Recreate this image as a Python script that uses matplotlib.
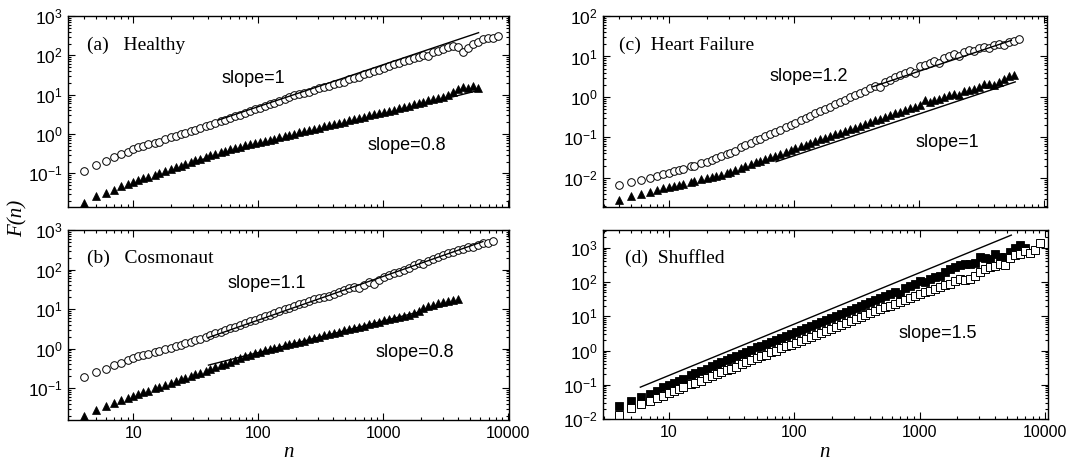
import numpy as np
import matplotlib
matplotlib.use("Agg")
import matplotlib.pyplot as plt
from matplotlib.ticker import LogLocator, FixedLocator, FixedFormatter, NullFormatter

plt.rcParams['font.family'] = ['Liberation Sans', 'DejaVu Sans']
plt.rcParams['mathtext.fontset'] = 'custom'
plt.rcParams['mathtext.rm'] = 'Liberation Sans'

# ---------------- data ----------------
n_grid = [4, 5, 6, 7, 8, 9, 10, 11, 12, 13, 15, 16, 18, 20, 22, 24, 26, 29, 31, 34,
          38, 41, 45, 50, 54, 59, 65, 71, 78, 86, 94, 103, 113, 124, 135, 148, 163, 178, 195, 214,
          234, 257, 281, 308, 338, 370, 405, 444, 487, 534, 585, 641, 702, 770, 843, 924, 1013, 1110, 1217, 1333,
          1461, 1601, 1755, 1923, 2108, 2310, 2532, 2775, 3041, 3333, 3653, 4004, 4388, 4809, 5271, 5777, 6331, 6939, 7605, 8335,
          9135]

# log10 F(n) values
healthy_circ = [-0.93, -0.79, -0.68, -0.59, -0.51, -0.45, -0.39, -0.34, -0.30, -0.26,
                -0.22, -0.19, -0.13, -0.08, -0.04, 0.00, 0.03, 0.08, 0.11, 0.15,
                0.20, 0.23, 0.27, 0.32, 0.36, 0.40, 0.45, 0.49, 0.54, 0.58,
                0.63, 0.67, 0.72, 0.76, 0.80, 0.85, 0.89, 0.93, 0.98, 1.01,
                1.05, 1.08, 1.12, 1.16, 1.20, 1.23, 1.27, 1.31, 1.33, 1.39,
                1.42, 1.46, 1.52, 1.55, 1.60, 1.62, 1.69, 1.72, 1.77, 1.80,
                1.85, 1.88, 1.93, 1.95, 2.01, 1.98, 2.08, 2.12, 2.17, 2.22,
                2.24, 2.20, 2.09, 2.18, 2.28, 2.35, 2.42, 2.45, 2.44, 2.50]
healthy_tri = [-1.74, -1.58, -1.50, -1.42, -1.33, -1.27, -1.21, -1.16, -1.12, -1.08,
               -1.03, -1.00, -0.94, -0.89, -0.85, -0.80, -0.76, -0.71, -0.67, -0.63,
               -0.58, -0.54, -0.50, -0.46, -0.43, -0.39, -0.36, -0.33, -0.29, -0.26,
               -0.24, -0.20, -0.17, -0.14, -0.12, -0.08, -0.06, -0.02, 0.01, 0.04,
               0.07, 0.10, 0.13, 0.16, 0.20, 0.22, 0.25, 0.29, 0.31, 0.35,
               0.37, 0.41, 0.44, 0.49, 0.50, 0.53, 0.57, 0.59, 0.62, 0.66,
               0.69, 0.72, 0.76, 0.78, 0.82, 0.86, 0.88, 0.91, 0.95, 0.98,
               1.08, 1.15, 1.20, 1.18, 1.22, 1.18]
healthy_fit1_n = [48, 5820]
healthy_fit1_F = [2.27, 377]
healthy_fit2_n = [32.5, 5900]
healthy_fit2_F = [0.21, 13.0]

cosmo_circ = [-0.73, -0.60, -0.51, -0.43, -0.36, -0.30, -0.25, -0.20, -0.17, -0.14,
              -0.09, -0.07, -0.02, 0.02, 0.06, 0.10, 0.13, 0.17, 0.21, 0.25,
              0.30, 0.34, 0.38, 0.43, 0.47, 0.51, 0.55, 0.60, 0.64, 0.69,
              0.73, 0.78, 0.82, 0.86, 0.90, 0.95, 0.99, 1.03, 1.08, 1.12,
              1.16, 1.20, 1.25, 1.29, 1.31, 1.33, 1.39, 1.44, 1.48, 1.52,
              1.55, 1.52, 1.62, 1.68, 1.63, 1.74, 1.80, 1.86, 1.90, 1.93,
              1.98, 2.04, 2.12, 2.17, 2.15, 2.21, 2.27, 2.31, 2.36, 2.41,
              2.45, 2.49, 2.53, 2.56, 2.58, 2.62, 2.66, 2.68, 2.73]
cosmo_tri = [-1.70, -1.55, -1.45, -1.38, -1.31, -1.25, -1.20, -1.15, -1.11, -1.07,
             -1.01, -0.98, -0.92, -0.87, -0.83, -0.78, -0.74, -0.69, -0.65, -0.61,
             -0.56, -0.52, -0.47, -0.42, -0.38, -0.34, -0.29, -0.25, -0.20, -0.16,
             -0.12, -0.09, -0.05, -0.02, 0.01, 0.05, 0.08, 0.11, 0.14, 0.17,
             0.20, 0.23, 0.27, 0.30, 0.33, 0.36, 0.39, 0.43, 0.46, 0.49,
             0.52, 0.55, 0.58, 0.61, 0.65, 0.68, 0.71, 0.74, 0.77, 0.80,
             0.83, 0.86, 0.90, 0.96, 1.03, 1.08, 1.10, 1.14, 1.18, 1.21,
             1.23, 1.25]
cosmo_fit1_n = [40, 6300]
cosmo_fit1_F = [1.9, 510]
cosmo_fit2_n = [40, 4000]
cosmo_fit2_F = [0.38, 15.0]

hf_circ = [-2.18, -2.11, -2.05, -2.00, -1.96, -1.91, -1.87, -1.84, -1.80, -1.77,
           -1.72, -1.70, -1.64, -1.60, -1.56, -1.51, -1.47, -1.42, -1.38, -1.33,
           -1.25, -1.20, -1.14, -1.07, -1.03, -0.97, -0.92, -0.86, -0.81, -0.75,
           -0.70, -0.64, -0.58, -0.52, -0.47, -0.41, -0.35, -0.29, -0.24, -0.18,
           -0.12, -0.07, -0.01, 0.04, 0.10, 0.15, 0.21, 0.26, 0.24, 0.38,
           0.43, 0.49, 0.54, 0.60, 0.65, 0.60, 0.76, 0.80, 0.85, 0.89,
           0.85, 0.96, 1.01, 1.05, 1.02, 1.12, 1.15, 1.13, 1.20, 1.24,
           1.21, 1.28, 1.31, 1.29, 1.36, 1.39, 1.43]
hf_tri = [-2.56, -2.46, -2.40, -2.35, -2.31, -2.26, -2.22, -2.19, -2.17, -2.15,
          -2.10, -2.08, -2.04, -2.01, -1.98, -1.95, -1.92, -1.88, -1.85, -1.81,
          -1.76, -1.72, -1.67, -1.62, -1.58, -1.54, -1.49, -1.45, -1.40, -1.35,
          -1.31, -1.27, -1.22, -1.18, -1.14, -1.10, -1.05, -1.01, -0.96, -0.92,
          -0.88, -0.84, -0.80, -0.76, -0.71, -0.67, -0.62, -0.58, -0.54, -0.50,
          -0.45, -0.41, -0.37, -0.33, -0.28, -0.25, -0.20, -0.08, -0.12, -0.07,
          -0.04, -0.01, 0.04, 0.07, 0.04, 0.15, 0.16, 0.19, 0.24, 0.33,
          0.31, 0.30, 0.37, 0.45, 0.52, 0.55]
hf_fit1_n = [427, 5500]
hf_fit1_F = [1.78, 25.0]
hf_fit2_n = [72, 5900]
hf_fit2_F = [0.025, 2.35]

shuf_filled = [-1.63, -1.48, -1.37, -1.27, -1.17, -1.08, -1.00, -0.94, -0.88, -0.82,
               -0.72, -0.67, -0.60, -0.53, -0.46, -0.40, -0.34, -0.27, -0.22, -0.16,
               -0.09, -0.04, 0.02, 0.09, 0.14, 0.19, 0.26, 0.31, 0.37, 0.43,
               0.49, 0.55, 0.61, 0.67, 0.72, 0.78, 0.84, 0.90, 0.96, 1.02,
               1.07, 1.13, 1.19, 1.25, 1.31, 1.36, 1.42, 1.48, 1.54, 1.60,
               1.66, 1.70, 1.65, 1.82, 1.88, 1.93, 2.02, 1.99, 2.10, 2.14,
               2.18, 2.30, 2.38, 2.44, 2.50, 2.52, 2.54, 2.55, 2.74, 2.70,
               2.68, 2.82, 2.74, 2.72, 2.88, 2.98, 3.08, 2.99]
shuf_open = [-1.89, -1.67, -1.57, -1.48, -1.40, -1.32, -1.25, -1.19, -1.13, -1.08,
             -0.99, -0.95, -0.88, -0.81, -0.75, -0.69, -0.64, -0.57, -0.53, -0.47,
             -0.40, -0.35, -0.29, -0.22, -0.17, -0.12, -0.05, 0.00, 0.06, 0.12,
             0.17, 0.23, 0.29, 0.34, 0.40, 0.46, 0.52, 0.57, 0.63, 0.69,
             0.74, 0.80, 0.86, 0.92, 0.97, 1.03, 1.09, 1.14, 1.20, 1.26,
             1.31, 1.37, 1.43, 1.48, 1.54, 1.59, 1.65, 1.70, 1.75, 1.81,
             1.86, 1.91, 1.95, 2.02, 2.10, 2.06, 2.08, 2.18, 2.30, 2.38,
             2.44, 2.48, 2.52, 2.50, 2.70, 2.78, 2.82, 2.90, 2.86, 2.92,
             3.15]
shuf_fit_n = [5.9, 5400]
shuf_fit_F = [0.085, 2340]

panel_titles = ["(a)   Healthy", "(b)   Cosmonaut", "(c)  Heart Failure", "(d)  Shuffled"]
x_tick_vals = [10, 100, 1000, 10000]
x_tick_labels = ["10", "100", "1000", "10000"]

# ---------------- figure ----------------
W, H = 1086, 461
fig = plt.figure(figsize=(W / 100, H / 100), dpi=100)


def px_axes(l, t, r, b):
    return fig.add_axes([l / W, 1 - b / H, (r - l) / W, (b - t) / H])


ax_a = px_axes(68, 16, 509, 207)
ax_b = px_axes(68, 230, 509, 420)
ax_c = px_axes(603, 16, 1047, 207)
ax_d = px_axes(603, 230, 1048, 419)

circ_kw = dict(ls='none', marker='o', ms=5.5, mfc='white', mec='black', mew=0.7)
tri_kw = dict(ls='none', marker='^', ms=6.0, mfc='black', mec='black', mew=0.5)
sqf_kw = dict(ls='none', marker='s', ms=5.3, mfc='black', mec='black', mew=0.6)
sqo_kw = dict(ls='none', marker='s', ms=5.3, mfc='white', mec='black', mew=0.7)
line_kw = dict(color='black', lw=1.0)


def pts(vals):
    return np.array(n_grid[:len(vals)]), 10.0 ** np.array(vals)


def style(ax, ylim, xlim, xlabels):
    ax.set_xscale('log')
    ax.set_yscale('log')
    ax.set_xlim(*xlim)
    ax.set_ylim(*ylim)
    ax.xaxis.set_major_locator(FixedLocator(x_tick_vals))
    ax.xaxis.set_minor_locator(LogLocator(base=10, subs=np.arange(2, 10), numticks=20))
    ax.xaxis.set_minor_formatter(NullFormatter())
    if xlabels:
        ax.xaxis.set_major_formatter(FixedFormatter(x_tick_labels))
    else:
        ax.xaxis.set_major_formatter(NullFormatter())
    ax.yaxis.set_major_locator(LogLocator(base=10, numticks=12))
    ax.yaxis.set_minor_locator(LogLocator(base=10, subs=np.arange(2, 10), numticks=12))
    ax.yaxis.set_minor_formatter(NullFormatter())
    ax.tick_params(which='both', direction='in', top=True, right=True, width=0.8)
    ax.tick_params(which='major', length=5, pad=4)
    ax.tick_params(which='minor', length=2.5)
    ax.tick_params(axis='x', labelsize=11.5)
    ax.tick_params(axis='y', labelsize=12.5)
    for s in ax.spines.values():
        s.set_linewidth(1.0)


serif = dict(family=['Liberation Serif', 'DejaVu Serif'], fontsize=14)
slope_fs = 13

# (a)
ax = ax_a
ax.plot(*pts(healthy_circ), **circ_kw)
ax.plot(*pts(healthy_tri), **tri_kw)
ax.plot(healthy_fit1_n, healthy_fit1_F, **line_kw)
ax.plot(healthy_fit2_n, healthy_fit2_F, **line_kw)
style(ax, (0.014, 1000), (3.0, 10200), False)
ax.text(0.043, 0.848, panel_titles[0], transform=ax.transAxes, ha='left', va='center', **serif)
ax.text(0.42, 0.675, "slope=1", transform=ax.transAxes, ha='center', va='center', fontsize=slope_fs)
ax.text(0.769, 0.32, "slope=0.8", transform=ax.transAxes, ha='center', va='center', fontsize=slope_fs)

# (b)
ax = ax_b
ax.plot(*pts(cosmo_circ), **circ_kw)
ax.plot(*pts(cosmo_tri), **tri_kw)
ax.plot(cosmo_fit1_n, cosmo_fit1_F, **line_kw)
ax.plot(cosmo_fit2_n, cosmo_fit2_F, **line_kw)
style(ax, (0.0155, 1000), (3.0, 10200), True)
ax.text(0.043, 0.853, panel_titles[1], transform=ax.transAxes, ha='left', va='center', **serif)
ax.text(0.451, 0.721, "slope=1.1", transform=ax.transAxes, ha='center', va='center', fontsize=slope_fs)
ax.text(0.787, 0.353, "slope=0.8", transform=ax.transAxes, ha='center', va='center', fontsize=slope_fs)

# (c)
ax = ax_c
ax.plot(*pts(hf_circ), **circ_kw)
ax.plot(*pts(hf_tri), **tri_kw)
ax.plot(hf_fit1_n, hf_fit1_F, **line_kw)
ax.plot(hf_fit2_n, hf_fit2_F, **line_kw)
style(ax, (0.0019, 100), (2.97, 10600), False)
ax.text(0.036, 0.848, panel_titles[2], transform=ax.transAxes, ha='left', va='center', **serif)
ax.text(0.464, 0.681, "slope=1.2", transform=ax.transAxes, ha='center', va='center', fontsize=slope_fs)
ax.text(0.775, 0.34, "slope=1", transform=ax.transAxes, ha='center', va='center', fontsize=slope_fs)

# (d)
ax = ax_d
ax.plot(*pts(shuf_filled), **sqf_kw)
ax.plot(*pts(shuf_open), **sqo_kw)
ax.plot(shuf_fit_n, shuf_fit_F, **line_kw)
style(ax, (0.01, 3300), (2.97, 10600), True)
ax.text(0.05, 0.852, panel_titles[3], transform=ax.transAxes, ha='left', va='center', **serif)
ax.text(0.752, 0.45, "slope=1.5", transform=ax.transAxes, ha='center', va='center', fontsize=slope_fs)

# axis labels
fig.text(18 / W, 1 - 218 / H, "F(n)", rotation=90, ha='center', va='center',
         family=['Liberation Serif', 'DejaVu Serif'], style='italic', fontsize=15)
fig.text(288 / W, 1 - 452 / H, "n", ha='center', va='center',
         family=['Liberation Serif', 'DejaVu Serif'], style='italic', fontsize=15)
fig.text(825 / W, 1 - 452 / H, "n", ha='center', va='center',
         family=['Liberation Serif', 'DejaVu Serif'], style='italic', fontsize=15)

fig.savefig("out.png", dpi=100)
